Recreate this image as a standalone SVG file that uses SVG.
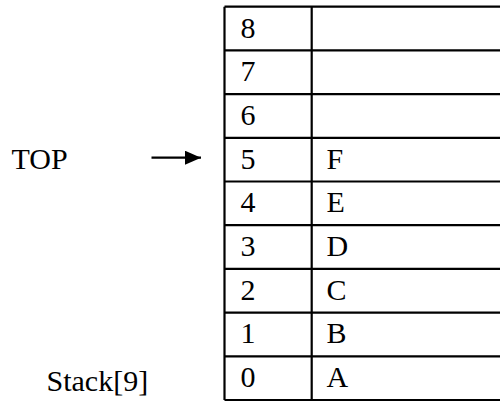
<svg xmlns="http://www.w3.org/2000/svg" width="500" height="405" viewBox="0 0 500 405">
  <style>
    text { font-family: "Liberation Serif", "DejaVu Serif", "Noto Serif", serif; font-size: 30px; fill: #000; }
    .grid { stroke: #000; stroke-width: 2.2; fill: none; }
    .conn { stroke: #000; stroke-width: 2.2; fill: none; }
  </style>
  <defs>
    <marker id="head" markerWidth="16" markerHeight="14" refX="16" refY="7" orient="auto" markerUnits="userSpaceOnUse">
      <path d="M0,0 L16,7 L0,14 Z" fill="#000"/>
    </marker>
  </defs>
  <rect width="500" height="405" fill="#fff"/>

  <!-- stack table: 9 rows, index column + value column, open on the right -->
  <g id="stack-table">
    <path class="grid" d="M224.5,6.7 V400 M311.7,6.7 V400"/>
    <path class="grid" d="M224.5,6.7 H500 M224.5,50.4 H500 M224.5,94.1 H500 M224.5,137.8 H500 M224.5,181.5 H500 M224.5,225.2 H500 M224.5,268.9 H500 M224.5,312.6 H500 M224.5,356.3 H500 M224.5,400 H500"/>
  </g>

  <g id="row-8"><text x="240.5" y="37.5" font-family="Liberation Serif, serif">8</text></g>
  <g id="row-7"><text x="240.5" y="81.2" font-family="Liberation Serif, serif">7</text></g>
  <g id="row-6"><text x="240.5" y="124.9" font-family="Liberation Serif, serif">6</text></g>
  <g id="row-5"><text x="240.5" y="168.6" font-family="Liberation Serif, serif">5</text><text x="326.5" y="168.6" font-family="Liberation Serif, serif">F</text></g>
  <g id="row-4"><text x="240.5" y="212.3" font-family="Liberation Serif, serif">4</text><text x="326.5" y="212.3" font-family="Liberation Serif, serif">E</text></g>
  <g id="row-3"><text x="240.5" y="256" font-family="Liberation Serif, serif">3</text><text x="326.5" y="256" font-family="Liberation Serif, serif">D</text></g>
  <g id="row-2"><text x="240.5" y="299.7" font-family="Liberation Serif, serif">2</text><text x="326.5" y="299.7" font-family="Liberation Serif, serif">C</text></g>
  <g id="row-1"><text x="240.5" y="343.4" font-family="Liberation Serif, serif">1</text><text x="326.5" y="343.4" font-family="Liberation Serif, serif">B</text></g>
  <g id="row-0"><text x="240.5" y="387.1" font-family="Liberation Serif, serif">0</text><text x="326.5" y="387.1" font-family="Liberation Serif, serif">A</text></g>

  <g id="top-label"><text x="11.5" y="169" font-family="Liberation Serif, serif">TOP</text></g>
  <g id="stack-label"><text x="46.5" y="391" font-family="Liberation Serif, serif" font-size="31">Stack[9]</text></g>

  <g id="connectors">
    <line class="conn" x1="151.5" y1="157.7" x2="201" y2="157.7" marker-end="url(#head)"/>
  </g>
</svg>
